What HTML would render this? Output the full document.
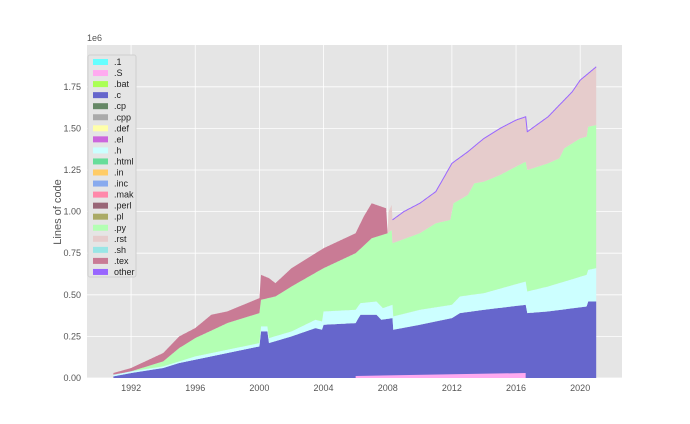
<!DOCTYPE html><html><head><style>body{margin:0;background:#fff}svg{display:block;font-family:"Liberation Sans",sans-serif}</style></head><body>
<svg id="s" width="690" height="424" xmlns="http://www.w3.org/2000/svg">
<rect x="87" y="45" width="535" height="333" fill="#e5e5e5"/>
<g id="grid" stroke="#fff" stroke-width="0.8"></g>
<g id="areas"></g>
<g id="ticks" font-size="9" fill="#555"></g>
<text x="87" y="41" font-size="9" fill="#555">1e6</text>
<text transform="translate(61,212) rotate(-90)" font-size="11" fill="#555" text-anchor="middle">Lines of code</text>
<g id="leg"></g>
</svg>
<script>
const X=y=>99+(y-1990)*16.04, Y=v=>378-v*166.4;
const ns="http://www.w3.org/2000/svg";
function el(p,t,a,txt){const e=document.createElementNS(ns,t);for(const k in a)e.setAttribute(k,a[k]);if(txt!=null)e.textContent=txt;document.getElementById(p).appendChild(e);}
for(let y=1992;y<=2020;y+=4){el("grid","line",{x1:X(y),x2:X(y),y1:45,y2:378});el("ticks","text",{x:X(y),y:391,"text-anchor":"middle"},y);}
for(let i=0;i<=7;i++){const v=i*0.25;el("grid","line",{x1:87,x2:622,y1:Y(v),y2:Y(v)});el("ticks","text",{x:81,y:Y(v)+3,"text-anchor":"end"},v.toFixed(2));}
function interp(pts,y){if(y<=pts[0][0])return pts[0][1];for(let i=1;i<pts.length;i++){if(y<=pts[i][0]){const a=pts[i-1],b=pts[i];return a[1]+(b[1]-a[1])*(y-a[0])/(b[0]-a[0]);}}return pts[pts.length-1][1];}
const c=[[1990.9,0.01],[1992,0.03],[1994,0.06],[1995,0.09],[1996,0.11],[1998,0.15],[2000,0.19],[2000.1,0.28],[2000.5,0.28],[2000.6,0.21],[2002,0.25],[2003.5,0.30],[2003.9,0.29],[2004,0.32],[2006,0.33],[2006.3,0.38],[2007.3,0.38],[2007.6,0.35],[2008.3,0.36],[2008.35,0.29],[2010,0.32],[2012,0.36],[2012.5,0.39],[2014,0.41],[2016.6,0.44],[2016.7,0.39],[2018,0.40],[2020.4,0.43],[2020.5,0.46],[2021,0.46]];
const h=[[1990.9,0.02],[1992,0.04],[1994,0.07],[1995,0.10],[1996,0.13],[1998,0.17],[2000,0.21],[2000.1,0.31],[2000.5,0.31],[2000.6,0.24],[2002,0.28],[2003.5,0.35],[2003.9,0.34],[2004,0.40],[2006,0.41],[2006.3,0.45],[2007.3,0.46],[2007.7,0.42],[2008.3,0.44],[2008.35,0.37],[2010,0.41],[2012,0.44],[2012.5,0.49],[2014,0.51],[2016.6,0.58],[2016.7,0.52],[2018,0.55],[2020.4,0.62],[2020.5,0.65],[2021,0.66]];
const py=[[1990.9,0.02],[1992,0.04],[1994,0.10],[1995,0.18],[1996,0.24],[1998,0.33],[2000,0.39],[2000.1,0.47],[2001,0.49],[2002,0.55],[2004,0.66],[2006,0.75],[2007,0.84],[2008,0.87],[2008.25,0.89],[2008.3,0.81],[2010,0.87],[2011,0.93],[2011.9,0.95],[2012.1,1.05],[2013,1.10],[2013.4,1.17],[2014,1.18],[2015,1.22],[2016,1.27],[2016.6,1.30],[2016.7,1.25],[2018,1.29],[2018.7,1.32],[2019,1.38],[2020,1.44],[2020.4,1.45],[2020.5,1.51],[2021,1.52]];
const rst=[[2008.0,0.87],[2008.05,1.0],[2008.25,1.04],[2008.3,0.95],[2009,1.0],[2010,1.05],[2011,1.12],[2012,1.29],[2013,1.36],[2014,1.44],[2015,1.50],[2016,1.55],[2016.6,1.57],[2016.7,1.48],[2018,1.57],[2019,1.67],[2019.5,1.72],[2020,1.79],[2021,1.87]];
const tex=[[1990.9,0.03],[1992,0.06],[1994,0.15],[1995,0.25],[1996,0.30],[1997,0.38],[1998,0.40],[2000,0.48],[2000.1,0.62],[2000.6,0.60],[2001,0.57],[2002,0.66],[2004,0.78],[2006,0.87],[2006.5,0.97],[2007,1.05],[2007.9,1.02],[2008,0.87]];
function pts(top,from,to){const ys=[];for(let y=from;y<=to+1e-9;y+=0.05)ys.push(y);return ys;}
function band(top,bot,col,from,to){let d="";const ys=pts(top,from,to);
 ys.forEach((y,i)=>{d+=(i?"L":"M")+X(y).toFixed(1)+","+Y(interp(top,y)).toFixed(1);});
 ys.slice().reverse().forEach(y=>{d+="L"+X(y).toFixed(1)+","+Y(bot?interp(bot,y):0).toFixed(1);});
 el("areas","path",{d:d+"Z",fill:col});}
band(c,null,"#6666cc",1990.9,2021);
band(h,c,"#ccffff",1990.9,2021);
band(py,h,"#b3ffb3",1990.9,2021);
band(tex,py,"#c97b95",1990.9,2008);
band(rst,py,"#e6cccc",2008.0,2021);
let d="";pts(rst,2008.3,2021).forEach((y,i)=>{d+=(i?"L":"M")+X(y).toFixed(1)+","+Y(interp(rst,y)).toFixed(1);});
el("areas","path",{d:d,fill:"none",stroke:"#9966ff","stroke-width":1});
el("areas","path",{d:`M${X(2006)},378L${X(2006)},${Y(0.012)}L${X(2016.6)},${Y(0.03)}L${X(2016.6)},378Z`,fill:"#ffaaf0"});
const L=[[".1","#66ffff"],[".S","#ffaaf0"],[".bat","#aaff55"],[".c","#6666cc"],[".cp","#668866"],[".cpp","#aaaaaa"],[".def","#ffffaa"],[".el","#cc66dd"],[".h","#ccffff"],[".html","#66dd99"],[".in","#ffcc66"],[".inc","#88aaee"],[".mak","#ff88aa"],[".perl","#996677"],[".pl","#aaaa66"],[".py","#b3ffb3"],[".rst","#e6cccc"],[".sh","#99e6e6"],[".tex","#c97b95"],["other","#9966ff"]];
el("leg","rect",{x:88,y:55,width:48,height:222,fill:"#e5e5e5",stroke:"#d0d0d0",rx:2});
L.forEach((l,i)=>{const y=62+i*11.05;el("leg","rect",{x:93,y:y-3,width:15,height:6,fill:l[1]});el("leg","text",{x:114,y:y+3,"font-size":"9",fill:"#222"},l[0]);});
</script></body></html>
